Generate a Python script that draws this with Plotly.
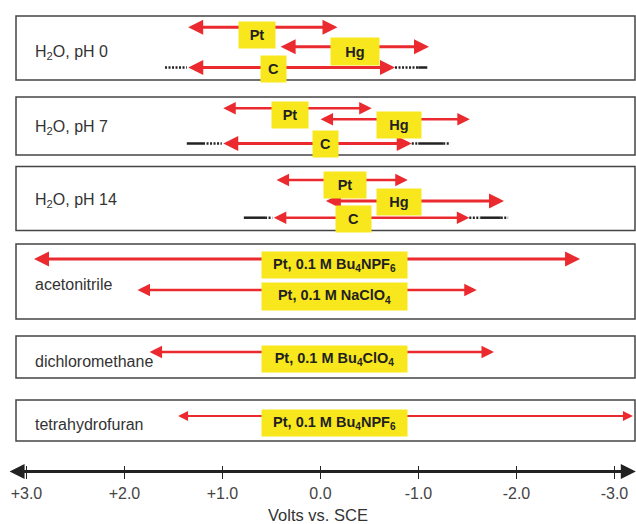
import plotly.graph_objects as go

# ---------------- data (volts vs. SCE) ----------------
row_labels = ["H<sub>2</sub>O, pH 0", "H<sub>2</sub>O, pH 7", "H<sub>2</sub>O, pH 14",
              "acetonitrile", "dichloromethane", "tetrahydrofuran"]

win_row = [0, 0, 0, 1, 1, 1, 2, 2, 2, 3, 3, 4, 5]
win_label = ["Pt", "Hg", "C", "Pt", "Hg", "C", "Pt", "Hg", "C",
             "Pt, 0.1 M Bu<sub>4</sub>NPF<sub>6</sub>",
             "Pt, 0.1 M NaClO<sub>4</sub>",
             "Pt, 0.1 M Bu<sub>4</sub>ClO<sub>4</sub>",
             "Pt, 0.1 M Bu<sub>4</sub>NPF<sub>6</sub>"]
win_anodic = [1.365, 0.422, 1.364, 1.007, 0.014, 1.007, 0.463, -0.04, 0.491,
              2.938, 1.882, 1.759, 1.468]
win_cathodic = [-0.174, -1.108, -0.761, -0.523, -1.524, -0.932, -0.891, -1.873, -1.519,
                -2.649, -1.595, -1.771, -3.189]

# black extensions of the carbon windows
ext_row = [0, 0, 0, 1, 1, 1, 1, 1, 2, 2, 2, 2, 2]
ext_from = [1.586, -0.761, -0.998, 1.364, 1.198, -0.932, -0.998, -1.253,
            0.782, 0.565, -1.519, -1.635, -1.84]
ext_to = [1.364, -0.998, -1.090, 1.198, 1.007, -0.998, -1.253, -1.325,
          0.565, 0.491, -1.635, -1.84, -1.915]
ext_dotted = [True, True, False, False, True, True, False, True,
              False, True, True, False, True]

tick_vals = [3, 2, 1, 0, -1, -2, -3]
tick_text = ["+3.0", "+2.0", "+1.0", "0.0", "-1.0", "-2.0", "-3.0"]

# ---------------- layout helpers (pixel-like y units) ----------------
panel_top = [16, 97, 166.5, 244, 336, 400]
panel_bot = [80, 155, 230.5, 319, 378, 441]
row_text_y = [52, 127, 200, 284, 361, 424]
win_y = [27.3, 46.7, 67.5, 108.3, 119.3, 143.5, 180, 201, 217.7, 259, 290, 352, 416]
win_lw = [3, 3, 3, 2.5, 2.5, 3, 2.5, 3, 2.5, 3, 2.5, 2.5, 2]
lab_x = [0.651, -0.353, 0.481, 0.310, -0.798, -0.048, -0.249, -0.800, -0.341,
         -0.146, -0.146, -0.146, -0.146]
lab_y = [34.5, 51.5, 69, 115, 124.8, 143.8, 184.7, 202, 218.7, 265.3, 296.7, 358.7, 422.5]
lab_w = [36, 48, 25, 36, 44, 25, 42, 44, 35, 145, 145, 145, 145]
lab_h = [26, 27, 26, 26, 26, 26, 26, 26, 26, 26, 27, 26, 26]
c_y = {0: 67.5, 1: 143.5, 2: 217.7}

RED = "#ea2a2f"
YEL = "#f8e71c"

fig = go.Figure()

# extensions
for r, a, b, d in zip(ext_row, ext_from, ext_to, ext_dotted):
    fig.add_trace(go.Scatter(
        x=[a, b], y=[c_y[r], c_y[r]], mode="lines",
        line=dict(color="#222222", width=2.5, dash="2px,1.5px" if d else "solid"),
        hoverinfo="skip", showlegend=False))

shapes = []
for t, b in zip(panel_top, panel_bot):
    shapes.append(dict(type="rect", xref="paper", yref="y", x0=16 / 636, x1=635 / 636,
                       y0=t, y1=b, line=dict(color="#444444", width=1.5)))

annotations = []
# double-headed red arrows
for i in range(len(win_row)):
    annotations.append(dict(
        x=win_cathodic[i], y=win_y[i], ax=win_anodic[i], ay=win_y[i],
        xref="x", yref="y", axref="x", ayref="y", text="", showarrow=True,
        arrowside="end+start", arrowhead=2, arrowsize=1.0, arrowwidth=win_lw[i],
        arrowcolor=RED, standoff=0, startstandoff=0))

# axis line with arrowheads
annotations.append(dict(
    x=-3.218, y=471.5, ax=3.188, ay=471.5, xref="x", yref="y", axref="x", ayref="y",
    text="", showarrow=True, arrowside="end+start", arrowhead=2, arrowsize=1.0,
    arrowwidth=3, arrowcolor="#222222", standoff=0, startstandoff=0))

# yellow labels
for i in range(len(win_row)):
    annotations.append(dict(
        x=lab_x[i], y=lab_y[i], xref="x", yref="y", text="<b>%s</b>" % win_label[i],
        showarrow=False, bgcolor=YEL, width=lab_w[i], height=lab_h[i], borderpad=0,
        align="center", valign="middle",
        font=dict(family="Liberation Sans Narrow, Arial Narrow, Arial", size=14.5,
                  color="#231f20")))

# row labels
for lbl, y in zip(row_labels, row_text_y):
    annotations.append(dict(
        x=33 / 636, y=y, xref="paper", yref="y", text=lbl, showarrow=False,
        xanchor="left", yanchor="middle",
        font=dict(family="Arial", size=16, color="#333333")))

fig.update_layout(
    width=636, height=524, margin=dict(l=0, r=0, t=0, b=52),
    plot_bgcolor="white", paper_bgcolor="white",
    shapes=shapes, annotations=annotations, showlegend=False,
    xaxis=dict(range=[3.27, -3.22], showgrid=False, zeroline=False, showline=False,
               tickvals=tick_vals, ticktext=tick_text, ticks="outside", ticklen=6,
               tickwidth=1.2, tickcolor="#222222", ticklabelstandoff=1,
               tickfont=dict(family="Arial", size=16, color="#444444"),
               title=dict(text="Volts vs. SCE", standoff=8,
                          font=dict(family="Arial", size=16.5, color="#333333"))),
    xaxis2=dict(range=[3.27, -3.22], overlaying="x", anchor="y", side="bottom",
                showgrid=False, zeroline=False, showline=False,
                tickvals=tick_vals, ticks="inside", ticklen=6, tickwidth=1.2,
                tickcolor="#222222", showticklabels=False),
    yaxis=dict(range=[472, 0], visible=False, showgrid=False, zeroline=False),
)
# invisible trace on xaxis2 so the axis is rendered
fig.add_trace(go.Scatter(x=[0], y=[-100], xaxis="x2", mode="markers",
                         marker=dict(opacity=0), hoverinfo="skip", showlegend=False))

fig.write_html("out.html")
